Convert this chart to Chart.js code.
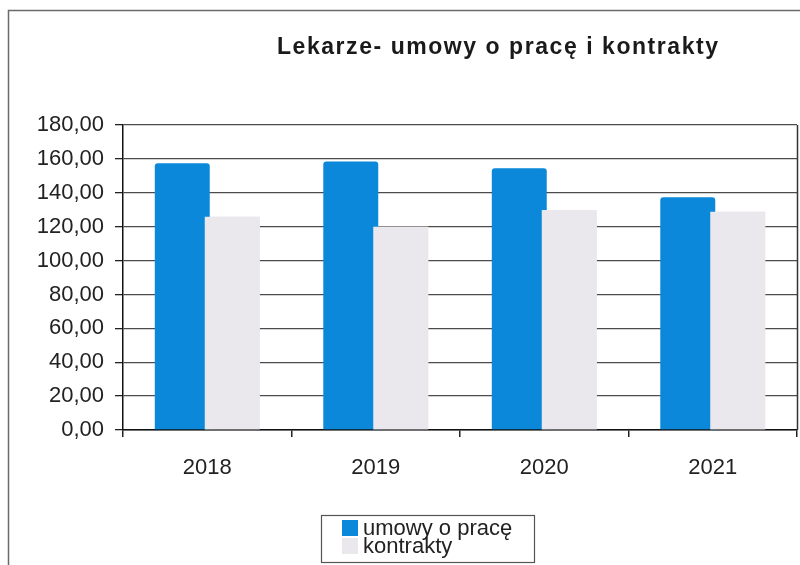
<!DOCTYPE html>
<html>
<head>
<meta charset="utf-8">
<script src="https://cdn.jsdelivr.net/npm/chart.js@4/dist/chart.umd.min.js"></script>
<style>
  html, body { margin: 0; padding: 0; background: #fff; }
  canvas { display: block; }
</style>
</head>
<body>
<canvas id="c" width="800" height="565"></canvas>
<script>
// Data
const chartTitle = 'Lekarze- umowy o pracę i kontrakty';
const years = ['2018', '2019', '2020', '2021'];
const seriesNames = ['umowy o pracę', 'kontrakty'];
const umowyOPrace = [157.5, 158.4, 154.5, 137.3];
const kontrakty = [125.9, 119.9, 129.8, 128.8];
const yMin = 0, yMax = 180, yStep = 20;

const BLUE = '#0b88d9';
const GREY = '#ebe8ed';
const FONT = '"Liberation Sans", Arial, sans-serif';
const TITLE_FONT = '"Liberation Sans Narrow", "Liberation Sans", Arial, sans-serif';

const formatPl = v => v.toFixed(2).replace('.', ',');

// Outer frame, title and boxed legend drawn around the plot
const decorations = {
  id: 'decorations',
  beforeDraw(chart) {
    const ctx = chart.ctx;
    ctx.save();
    ctx.fillStyle = '#fff';
    ctx.fillRect(0, 0, chart.width, chart.height);
    ctx.strokeStyle = '#6a6a6a';
    ctx.lineWidth = 1.5;
    ctx.strokeRect(8.5, 10.5, chart.width + 20, chart.height + 20);
    ctx.restore();
  },
  afterDatasetsDraw(chart) {
    // second series sits in front of the first where they touch
    const ctx = chart.ctx;
    const area = chart.chartArea;
    ctx.save();
    ctx.beginPath();
    ctx.rect(area.left, area.top, area.right - area.left, area.bottom - area.top);
    ctx.clip();
    chart.getDatasetMeta(1).data.forEach(el => el.draw(ctx, area));
    ctx.restore();
  },
  afterDraw(chart) {
    const ctx = chart.ctx;
    const area = chart.chartArea;
    ctx.save();
    // right edge of plot area
    ctx.strokeStyle = '#333';
    ctx.lineWidth = 1.5;
    ctx.beginPath();
    ctx.moveTo(area.right + 0.5, area.top);
    ctx.lineTo(area.right + 0.5, area.bottom);
    ctx.stroke();

    // title
    ctx.fillStyle = '#1a1a1a';
    ctx.font = 'bold 23px ' + TITLE_FONT;
    ctx.textBaseline = 'alphabetic';
    ctx.textAlign = 'left';
    const targetW = 441;
    ctx.letterSpacing = '0px';
    const w = ctx.measureText(chartTitle).width;
    const ls = Math.max(0, (targetW - w) / (chartTitle.length - 1));
    ctx.letterSpacing = ls + 'px';
    ctx.fillText(chartTitle, 277, 54);
    ctx.letterSpacing = '0px';

    // legend box
    ctx.strokeStyle = '#555';
    ctx.lineWidth = 1.2;
    ctx.strokeRect(321.5, 515.5, 213, 47);
    const colors = [BLUE, GREY];
    ctx.font = '22px ' + FONT;
    seriesNames.forEach((name, i) => {
      const y = 528 + i * 18;
      ctx.fillStyle = colors[i];
      ctx.fillRect(342, y - 8, 16, 16);
      ctx.fillStyle = '#222';
      ctx.textBaseline = 'middle';
      ctx.fillText(name, 363, y + 1);
    });
    ctx.restore();
  }
};

new Chart(document.getElementById('c'), {
  type: 'bar',
  data: {
    labels: years,
    datasets: [
      {
        label: seriesNames[0],
        data: umowyOPrace,
        backgroundColor: BLUE,
        borderRadius: { topLeft: 3, topRight: 3 },
        borderSkipped: 'bottom'
      },
      {
        label: seriesNames[1],
        data: kontrakty,
        backgroundColor: GREY
      }
    ]
  },
  options: {
    responsive: false,
    devicePixelRatio: 1,
    animation: false,
    categoryPercentage: 0.593,
    barPercentage: 1.1,
    layout: { padding: { left: 0, top: 125, right: 3, bottom: 0 } },
    plugins: {
      legend: { display: false },
      title: { display: false },
      tooltip: { enabled: false }
    },
    scales: {
      x: {
        afterFit: s => { s.height = 135; },
        grid: {
          offset: true,
          drawOnChartArea: false,
          drawTicks: true,
          tickLength: 7,
          color: '#222',
          lineWidth: 1.5
        },
        border: { display: true, color: '#111', width: 1.5 },
        ticks: {
          color: '#222',
          font: { family: FONT, size: 22 },
          padding: 18
        }
      },
      y: {
        min: yMin,
        max: yMax,
        afterFit: s => { s.width = 123; },
        grid: {
          color: '#4c4c4c',
          lineWidth: 1.3,
          drawTicks: true,
          tickLength: 8,
          tickColor: '#222'
        },
        border: { display: true, color: '#111', width: 1.5 },
        ticks: {
          stepSize: yStep,
          color: '#222',
          padding: 11,
          font: { family: FONT, size: 22 },
          callback: v => formatPl(v)
        }
      }
    }
  },
  plugins: [decorations]
});
</script>
</body>
</html>
